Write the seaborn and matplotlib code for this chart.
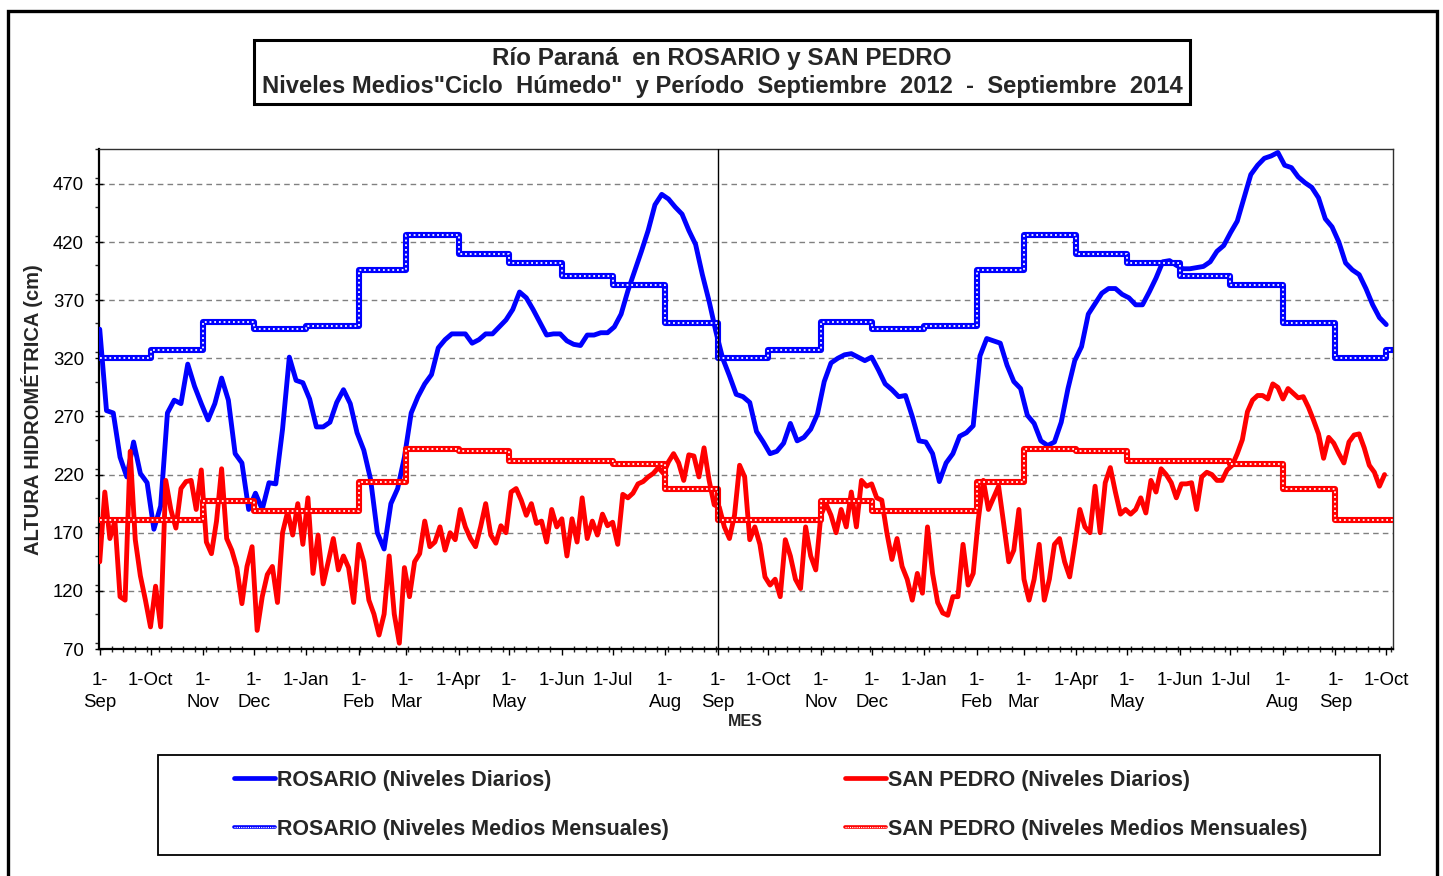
import numpy as np
import pandas as pd
import matplotlib
matplotlib.use("Agg")
import matplotlib.pyplot as plt
from matplotlib.patches import Rectangle
from matplotlib.lines import Line2D
from matplotlib.ticker import MultipleLocator, FixedLocator
import seaborn as sns

# ---------------- data ----------------
START = "2012-09-01"
ROSARIO_STEP_DAYS = 4
ROSARIO_DIARIO = [
    345, 275, 273, 235, 218, 248, 221, 213, 173, 193, 273, 284, 281, 315, 296, 281,
    267, 281, 303, 284, 238, 230, 190, 204, 190, 213, 212, 259, 321, 301, 299, 285,
    261, 261, 265, 282, 293, 281, 256, 241, 216, 170, 156, 195, 208, 235, 273, 287,
    298, 306, 329, 336, 341, 341, 341, 333, 336, 341, 341, 347, 353, 362, 377, 372,
    362, 351, 340, 341, 341, 335, 332, 331, 340, 340, 342, 342, 347, 358, 378, 395,
    412, 430, 452, 461, 457, 450, 444, 430, 418, 392, 369, 343, 320, 305, 289, 287,
    282, 257, 248, 238, 240, 247, 264, 249, 252, 259, 272, 300, 316, 320, 323, 324,
    321, 318, 321, 310, 298, 293, 287, 288, 270, 249, 248, 238, 214, 230, 238, 253,
    256, 262, 322, 337, 335, 333, 314, 300, 294, 271, 264, 249, 245, 248, 265, 294,
    318, 330, 358, 367, 376, 380, 380, 375, 372, 366, 366, 377, 389, 403, 404, 400,
    397, 397, 398, 399, 403, 412, 417, 428, 438, 458, 478, 486, 492, 494, 497, 486,
    484, 476, 471, 467, 458, 440, 433, 420, 402, 396, 392, 380, 366, 355, 349,
]
SANPEDRO_STEP_DAYS = 3
SANPEDRO_DIARIO = [
    145, 205, 165, 180, 115, 112, 240, 164, 133, 112, 89, 124, 89, 215, 190, 174,
    208, 214, 215, 190, 224, 162, 152, 180, 225, 165, 155, 140, 109, 141, 158, 86,
    115, 134, 141, 110, 170, 188, 168, 195, 160, 200, 135, 168, 126, 145, 165, 138,
    150, 140, 110, 160, 145, 112, 100, 82, 100, 150, 100, 75, 140, 115, 145,
    152, 180, 158, 162, 175, 155, 170, 164, 190, 175, 165, 158, 175, 195, 168, 161,
    176, 170, 205, 208, 198, 185, 195, 178, 180, 162, 190, 175, 182, 150, 182, 162,
    200, 165, 180, 168, 186, 176, 179, 160, 203, 200, 204, 212, 214, 218, 221, 226,
    221, 231, 238, 230, 215, 237, 236, 218, 243, 215, 194, 192,
    175, 165, 185, 228, 218, 164, 175, 160, 132, 125, 130, 115, 164, 150, 130, 122,
    175, 150, 138, 185, 195, 185, 170, 190, 175, 205, 175, 215, 210, 212, 200, 198,
    170, 147, 165, 141, 130, 112, 135, 118, 175, 135, 110, 101, 99, 115, 115, 160,
    125, 135, 181, 215, 190, 200, 210, 178, 145, 155, 190, 130, 112, 130,
    160, 112, 130, 160, 165, 145, 132, 160, 190, 175, 170, 210, 170, 213, 226, 205,
    186, 190, 186, 190, 200, 187, 215, 205, 225, 220, 213, 200, 212, 212, 213, 190,
    218, 222, 220, 215, 215, 224, 228, 238, 250, 274, 284, 288, 288, 285, 298, 295,
    285, 294, 290, 286, 287, 278, 267, 255, 234, 252, 247, 238, 230, 248, 254, 255,
    243, 228, 222, 210, 220,
]
MESES = pd.date_range("2012-09-01", "2014-10-01", freq="MS")
ROSARIO_MENSUAL = [320, 327, 351, 345, 348, 396, 426, 410, 402, 391, 383, 350,
                   320, 327, 351, 345, 348, 396, 426, 410, 402, 391, 383, 350,
                   320, 327]
SANPEDRO_MENSUAL = [181, 181, 197, 189, 189, 214, 242, 240, 232, 232, 229, 208,
                    181, 181, 197, 189, 189, 214, 242, 240, 232, 232, 229, 208,
                    181, 181]
X_LABELS = ["1-\nSep", "1-Oct", "1-\nNov", "1-\nDec", "1-Jan", "1-\nFeb", "1-\nMar",
            "1-Apr", "1-\nMay", "1-Jun", "1-Jul", "1-\nAug",
            "1-\nSep", "1-Oct", "1-\nNov", "1-\nDec", "1-Jan", "1-\nFeb", "1-\nMar",
            "1-Apr", "1-\nMay", "1-Jun", "1-Jul", "1-\nAug",
            "1-\nSep", "1-Oct"]
Y_TICKS = [70, 120, 170, 220, 270, 320, 370, 420, 470]
LEGEND_LABELS = ["ROSARIO (Niveles Diarios)", "ROSARIO (Niveles Medios Mensuales)",
                 "SAN PEDRO (Niveles Diarios)", "SAN PEDRO (Niveles Medios Mensuales)"]
TITLE_1 = "Río Paraná  en ROSARIO y SAN PEDRO"
TITLE_2 = "Niveles Medios\"Ciclo  Húmedo\"  y Período  Septiembre  2012  -  Septiembre  2014"

# ---------------- frames ----------------
start = pd.Timestamp(START)
xmax = start + pd.Timedelta(days=764)
df_ros = pd.DataFrame({"fecha": start + pd.to_timedelta(np.arange(len(ROSARIO_DIARIO)) * ROSARIO_STEP_DAYS, unit="D"),
                       "nivel": ROSARIO_DIARIO})
df_sp = pd.DataFrame({"fecha": start + pd.to_timedelta(np.arange(len(SANPEDRO_DIARIO)) * SANPEDRO_STEP_DAYS, unit="D"),
                      "nivel": SANPEDRO_DIARIO})
mes_fechas = list(MESES) + [xmax]
df_ros_m = pd.DataFrame({"fecha": mes_fechas, "nivel": ROSARIO_MENSUAL + [ROSARIO_MENSUAL[-1]]})
df_sp_m = pd.DataFrame({"fecha": mes_fechas, "nivel": SANPEDRO_MENSUAL + [SANPEDRO_MENSUAL[-1]]})

# ---------------- figure ----------------
sns.set_theme(style="white")
plt.rcParams["font.family"] = ["Liberation Sans", "DejaVu Sans"]

W, H = 1443, 876
fig = plt.figure(figsize=(W / 100, H / 100), dpi=100)
fig.patch.set_facecolor("white")


def fx(x):
    return x / W


def fy(y):
    return 1 - y / H


ax = fig.add_axes([fx(99.3), fy(649), fx(1393) - fx(99.3), fy(149) - fy(649)])
ax.set_facecolor("white")

BLUE = "#0000FF"
RED = "#FF0000"

ax.yaxis.grid(True, linestyle=(0, (4, 3)), color="#808080", linewidth=1.0, zorder=0)
ax.set_axisbelow(True)

sns.lineplot(data=df_ros, x="fecha", y="nivel", ax=ax, color=BLUE, linewidth=3.5,
             solid_joinstyle="round", solid_capstyle="round", zorder=3)
sns.lineplot(data=df_ros_m, x="fecha", y="nivel", ax=ax, color=BLUE, linewidth=4.4,
             drawstyle="steps-post", zorder=4)
sns.lineplot(data=df_ros_m, x="fecha", y="nivel", ax=ax, color="white", linewidth=1.3,
             drawstyle="steps-post", linestyle=(0, (1, 1.6)), zorder=4.1)
sns.lineplot(data=df_sp, x="fecha", y="nivel", ax=ax, color=RED, linewidth=3.5,
             solid_joinstyle="round", solid_capstyle="round", zorder=5)
sns.lineplot(data=df_sp_m, x="fecha", y="nivel", ax=ax, color=RED, linewidth=4.4,
             drawstyle="steps-post", zorder=6)
sns.lineplot(data=df_sp_m, x="fecha", y="nivel", ax=ax, color="white", linewidth=1.3,
             drawstyle="steps-post", linestyle=(0, (1, 1.6)), zorder=6.1)

ax.axvline(pd.Timestamp("2013-09-01"), color="black", linewidth=1.0, zorder=7)

ax.set_xlim(start - pd.Timedelta(hours=6), xmax)
ax.set_ylim(70, 500)
ax.set_xlabel("")
ax.set_ylabel("")

ax.set_yticks(Y_TICKS)
ax.set_yticklabels([str(v) for v in Y_TICKS])
ax.yaxis.set_minor_locator(MultipleLocator(25))

ax.xaxis.set_major_locator(FixedLocator(matplotlib.dates.date2num(MESES)))
ax.set_xticklabels(X_LABELS, linespacing=1.38)
weekly = pd.date_range(start, xmax, freq="7D")
ax.xaxis.set_minor_locator(FixedLocator(matplotlib.dates.date2num(weekly)))

ax.tick_params(axis="y", which="major", direction="inout", length=6, width=1,
               labelsize=13.4, pad=8, colors="black", left=True)
ax.tick_params(axis="y", which="minor", direction="out", length=3, width=1, left=True)
ax.tick_params(axis="x", which="major", direction="out", length=4.5, width=1,
               labelsize=13.4, pad=12, colors="black", bottom=True)
ax.tick_params(axis="x", which="minor", direction="inout", length=4, width=1, bottom=True)

for s in ["left", "bottom"]:
    ax.spines[s].set_color("black")
    ax.spines[s].set_linewidth(1.6)
for s in ["top", "right"]:
    ax.spines[s].set_color("#303030")
    ax.spines[s].set_linewidth(1.0)

# ---------------- decorations ----------------
fig.add_artist(Rectangle((fx(8), fy(890)), fx(1437) - fx(8), fy(11) - fy(890),
                         transform=fig.transFigure, fill=False, edgecolor="black", linewidth=2.4))
fig.add_artist(Rectangle((fx(254), fy(104)), fx(1190) - fx(254), fy(40) - fy(104),
                         transform=fig.transFigure, fill=False, edgecolor="black", linewidth=2.2))
fig.text(fx(722), fy(58), TITLE_1, ha="center", va="center", fontsize=17.5, fontweight="bold")
fig.text(fx(722), fy(86), TITLE_2, ha="center", va="center", fontsize=17.1, fontweight="bold")

fig.text(fx(32), fy(410), "ALTURA HIDROMÉTRICA (cm)", rotation=90, ha="center", va="center",
         fontsize=14.5, fontweight="bold")
fig.text(fx(745), fy(722), "MES", ha="center", va="center", fontsize=11.5, fontweight="bold")

fig.add_artist(Rectangle((fx(158), fy(855)), fx(1380) - fx(158), fy(755) - fy(855),
                         transform=fig.transFigure, fill=False, edgecolor="black", linewidth=1.3))

h_rd = Line2D([], [], color=BLUE, linewidth=3.4)
h_rm = (Line2D([], [], color=BLUE, linewidth=2.6), Line2D([], [], color="white", linewidth=0.8, linestyle=(0, (1, 1))))
h_sd = Line2D([], [], color=RED, linewidth=3.4)
h_sm = (Line2D([], [], color=RED, linewidth=2.6), Line2D([], [], color="white", linewidth=0.8, linestyle=(0, (1, 1))))

leg_kw = dict(frameon=False, prop={"size": 15.5, "weight": "bold"}, handlelength=1.9,
              handletextpad=0.1, labelspacing=1.3, borderpad=0, borderaxespad=0,
              loc="center left")
fig.legend([h_rd, h_rm], LEGEND_LABELS[:2], bbox_to_anchor=(fx(234), fy(805)), **leg_kw)
fig.legend([h_sd, h_sm], LEGEND_LABELS[2:], bbox_to_anchor=(fx(845), fy(805)), **leg_kw)

fig.savefig("out.png", dpi=100, facecolor="white")
